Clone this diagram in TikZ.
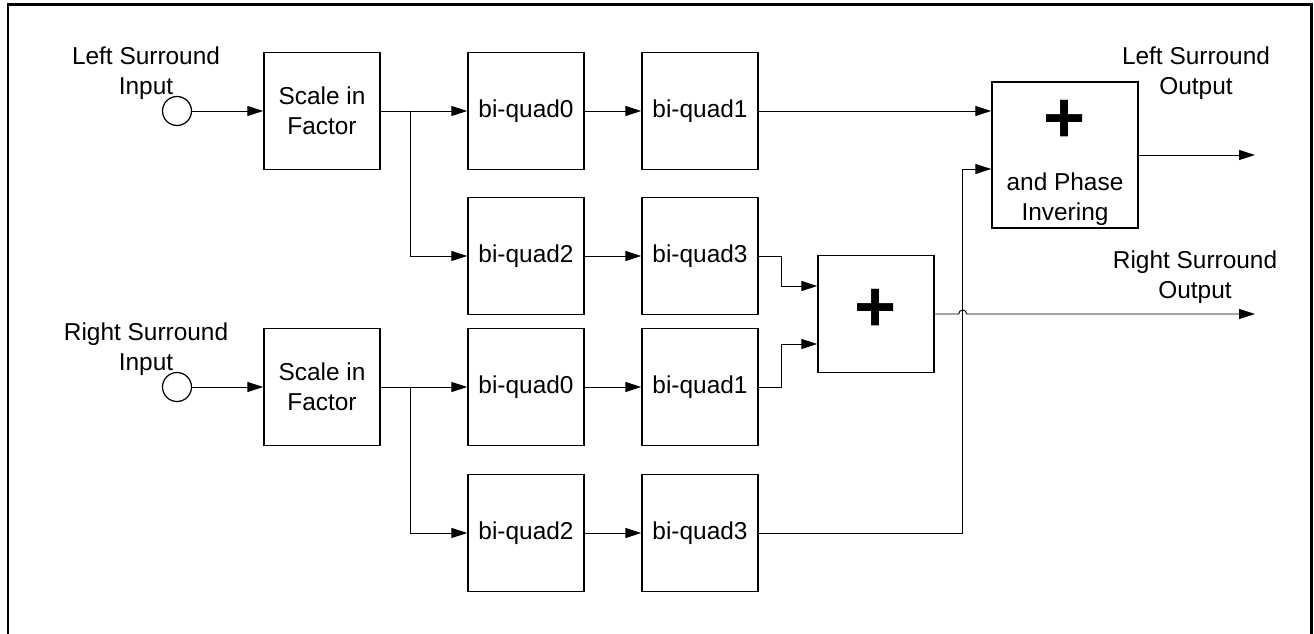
\documentclass[tikz,border=0pt]{standalone}
\usepackage{fontspec}
\setmainfont{Liberation Sans}
\usetikzlibrary{arrows.meta}

\begin{document}
\begin{tikzpicture}[x=0.02cm,y=-0.02cm,
    txt/.style={font=\fontsize{13.9}{17}\selectfont,align=center},
    blk/.style={draw,line width=0.8pt,minimum width=2.32cm,minimum height=2.34cm,inner sep=0pt,txt},
    src/.style={draw,circle,line width=0.7pt,minimum size=0.58cm,inner sep=0pt},
    conn/.style={line width=0.55pt,-{Triangle[length=0.32cm,width=0.2cm]}},
    plus/.style={font=\fontsize{41}{41}\selectfont\bfseries,inner sep=0pt}]
     \useasboundingbox (0,0) rectangle (1314,634);
     \draw [line width=1.7pt] (8,634) -- (8,5) -- (1311,5) -- (1311,634);
    \node [src] (lin) at (177,111) {};
    \node [txt] (linlbl) at (146,73) {Left Surround\\Input};
    \node [blk] (lscale) at (322,111) {Scale in\\Factor};
    \node [blk] (lq0) at (526,111) {bi-quad0};
    \node [blk] (lq1) at (700,111) {bi-quad1};
    \node [blk] (lq2) at (526,256) {bi-quad2};
    \node [blk] (lq3) at (700,256) {bi-quad3};
    \node [src] (rin) at (177,387) {};
    \node [txt] (rinlbl) at (146,349) {Right Surround\\Input};
    \node [blk] (rscale) at (322,387) {Scale in\\Factor};
    \node [blk] (rq0) at (526,387) {bi-quad0};
    \node [blk] (rq1) at (700,387) {bi-quad1};
    \node [blk] (rq2) at (526,533) {bi-quad2};
    \node [blk] (rq3) at (700,533) {bi-quad3};
    \node [blk] (msum) at (876,314) {};
    \node [plus] (mplus) at (876,310) {+};
    \node [draw,line width=0.8pt,minimum size=2.92cm,inner sep=0pt] (lsum) at (1065,155) {};
    \node [plus] (lplus) at (1065,121) {+};
    \node [txt] (lsumlbl) at (1065,199) {and Phase\\Invering};
    \node [txt] (loutlbl) at (1196,73) {Left Surround\\Output};
    \node [txt] (routlbl) at (1195,277) {Right Surround\\Output};
     \coordinate (lsplit) at (410,111);
     \coordinate (rsplit) at (410,387);
     \coordinate (lout) at (1255,155);
     \coordinate (rout) at (1255,314);
     \draw [conn] (lin) -- (lscale);
     \draw [conn] (lscale) -- (lq0);
     \draw [conn] (lsplit) |- (lq2);
     \draw [conn] (lq0) -- (lq1);
     \draw [conn] (lq2) -- (lq3);
     \draw [conn] (lq1) -- (lq1 -| lsum.west);
     \draw [conn] (lq3.east) -- ++(23,0) |- ([yshift=0.56cm]msum.west);
     \draw [conn] (rin) -- (rscale);
     \draw [conn] (rscale) -- (rq0);
     \draw [conn] (rsplit) |- (rq2);
     \draw [conn] (rq0) -- (rq1);
     \draw [conn] (rq2) -- (rq3);
     \draw [conn] (rq1.east) -- ++(23,0) |- ([yshift=-0.6cm]msum.west);
     \draw [conn] (rq3.east) -| ([xshift=-0.58cm,yshift=-0.28cm]lsum.west) -- ([yshift=-0.28cm]lsum.west);
     \draw [conn] (lsum) -- (lout);
     \draw [conn] (msum.east) -- ([xshift=0.48cm]msum.east) arc [start angle=180,end angle=0,radius=0.08cm] -- (rout);
\end{tikzpicture}
\end{document}
